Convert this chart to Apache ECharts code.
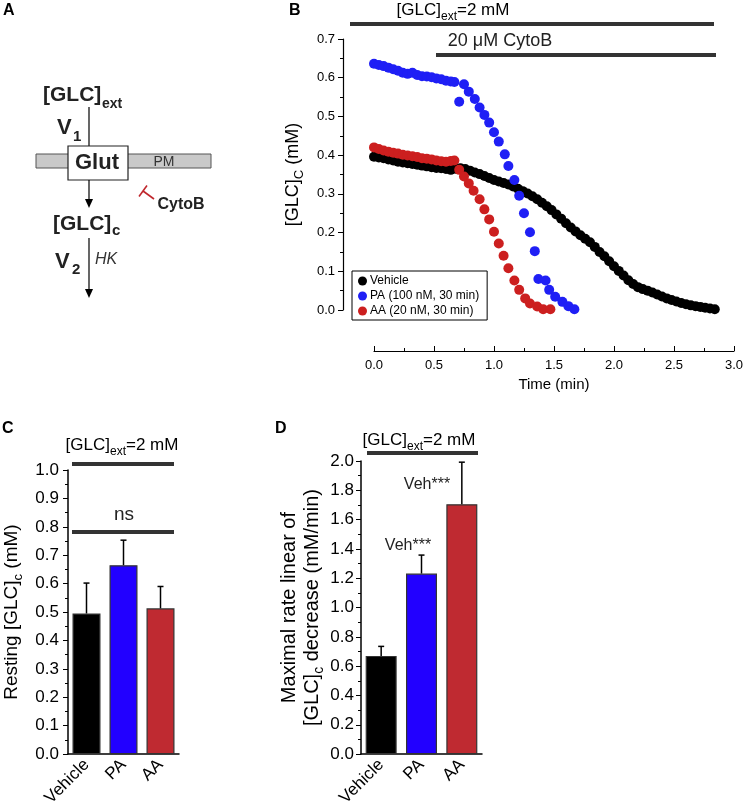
<!DOCTYPE html>
<html>
<head>
<meta charset="utf-8">
<script src="https://cdn.jsdelivr.net/npm/echarts@6/dist/echarts.min.js"></script>
<style>
html,body{margin:0;padding:0;background:#fff;}
#chart{width:746px;height:809px;}
</style>
</head>
<body>
<div id="chart"></div>
<script>
// ---------- Panel B: time course ----------
const vehicleTime = [0.00,0.04,0.08,0.12,0.16,0.20,0.24,0.28,0.32,0.36,0.40,0.44,0.48,0.52,0.56,0.60,0.64,0.68,0.72,0.76,0.80,0.84,0.88,0.92,0.96,1.00,1.04,1.08,1.12,1.16,1.20,1.24,1.28,1.32,1.36,1.40,1.44,1.48,1.52,1.56,1.60,1.64,1.68,1.72,1.76,1.80,1.84,1.88,1.92,1.96,2.00,2.04,2.08,2.12,2.16,2.20,2.24,2.28,2.32,2.36,2.40,2.44,2.48,2.52,2.56,2.60,2.64,2.68,2.72,2.76,2.80,2.84];
const vehicleGlc = [0.396,0.394,0.392,0.389,0.386,0.383,0.381,0.379,0.377,0.375,0.373,0.371,0.369,0.367,0.366,0.364,0.362,0.365,0.366,0.364,0.360,0.355,0.351,0.346,0.341,0.336,0.332,0.328,0.324,0.319,0.313,0.307,0.301,0.294,0.286,0.277,0.268,0.258,0.247,0.236,0.224,0.213,0.203,0.193,0.184,0.175,0.163,0.150,0.139,0.126,0.113,0.101,0.089,0.077,0.067,0.059,0.054,0.050,0.045,0.040,0.035,0.030,0.026,0.022,0.018,0.015,0.012,0.010,0.008,0.006,0.004,0.002];

const paTime = [0.00,0.04,0.08,0.12,0.16,0.20,0.24,0.28,0.32,0.36,0.40,0.44,0.48,0.52,0.56,0.60,0.64,0.67,0.71,0.75,0.79,0.84,0.88,0.92,0.96,1.00,1.04,1.09,1.12,1.17,1.21,1.25,1.30,1.34,1.37,1.43,1.46,1.51,1.57,1.62,1.67];
const paGlc = [0.636,0.633,0.630,0.626,0.622,0.618,0.613,0.610,0.613,0.607,0.604,0.603,0.601,0.598,0.596,0.592,0.590,0.589,0.538,0.583,0.564,0.545,0.523,0.504,0.484,0.459,0.435,0.402,0.372,0.336,0.295,0.250,0.201,0.152,0.080,0.076,0.052,0.034,0.021,0.010,0.002];

const aaTime = [0.00,0.04,0.08,0.12,0.16,0.20,0.24,0.28,0.32,0.36,0.40,0.44,0.48,0.52,0.56,0.60,0.64,0.67,0.71,0.75,0.79,0.83,0.88,0.92,0.96,1.00,1.04,1.08,1.12,1.17,1.21,1.26,1.30,1.36,1.41,1.47];
const aaGlc = [0.420,0.416,0.412,0.409,0.406,0.404,0.401,0.399,0.397,0.395,0.392,0.391,0.389,0.386,0.384,0.383,0.385,0.386,0.362,0.345,0.327,0.308,0.286,0.260,0.234,0.202,0.172,0.140,0.108,0.076,0.052,0.030,0.017,0.009,0.002,0.002];

const seriesNames = ['Vehicle', 'PA (100 nM, 30 min)', 'AA (20 nM, 30 min)'];

// ---------- Panels C and D: bars ----------
const groups = ['Vehicle', 'PA', 'AA'];
const restingMean = [0.495, 0.665, 0.513];
const restingErr = [0.107, 0.088, 0.077];
const rateMean = [0.670, 1.232, 1.705];
const rateErr = [0.065, 0.126, 0.287];

const FONT = 'Arial, "Liberation Sans", Helvetica, sans-serif';
const pointColors = ['#000000', '#1f1ff5', '#cc1f1f'];
const barColors = ['#000000', '#2200ff', '#bf2a31'];

function zip(a, b) { return a.map((v, i) => [v, b[i]]); }
function fmt1(v) { return v.toFixed(1); }

function errRender(params, api) {
  const x = api.value(0), m = api.value(1), e = api.value(2);
  const p0 = api.coord([x, m]);
  const p1 = api.coord([x, m + e]);
  const st = { stroke: '#000', lineWidth: 1.5 };
  return { type: 'group', children: [
    { type: 'line', shape: { x1: p0[0], y1: p0[1], x2: p1[0], y2: p1[1] }, style: st },
    { type: 'line', shape: { x1: p1[0] - 3, y1: p1[1], x2: p1[0] + 3, y2: p1[1] }, style: st }
  ]};
}

function richSub(size, subSize, color) {
  return {
    n: { fontSize: size, fontFamily: FONT, color: color, lineHeight: size + 3, verticalAlign: 'top' },
    s: { fontSize: subSize, fontFamily: FONT, color: color, lineHeight: subSize, padding: [Math.round(size * 0.5), 0, 0, 0], verticalAlign: 'top' }
  };
}

const chart = echarts.init(document.getElementById('chart'), null, { renderer: 'canvas' });

const valAxisCommon = {
  axisLine: { show: true, onZero: false, lineStyle: { color: '#000', width: 1.2 } },
  splitLine: { show: false },
  axisLabel: { color: '#000', fontFamily: FONT, formatter: fmt1 },
  nameTextStyle: { color: '#000', fontFamily: FONT }
};

function txt(x, y, text, font, fill, align, va) {
  return { type: 'text', x: x, y: y, silent: true, style: { text: text, font: font, fill: fill || '#000', align: align || 'left', verticalAlign: va || 'middle' } };
}
function ln(x1, y1, x2, y2, color, w) {
  return { type: 'line', silent: true, shape: { x1, y1, x2, y2 }, style: { stroke: color, lineWidth: w } };
}
function richTxt(x, y, text, rich, align) {
  return { type: 'text', x: x, y: y, silent: true, style: { text: text, rich: rich, align: align || 'center', verticalAlign: 'top' } };
}

const annRich = richSub(17, 12, '#222');
const barStroke = '#333';

const graphics = [
  // Panel letters
  txt(3, 11, 'A', 'bold 16px ' + FONT),
  txt(289, 11, 'B', 'bold 16px ' + FONT),
  txt(2, 429, 'C', 'bold 16px ' + FONT),
  txt(275, 429, 'D', 'bold 16px ' + FONT),

  // ---- Panel A diagram ----
  txt(43, 95, '[GLC]', 'bold 21px ' + FONT, '#222'),
  txt(102, 104, 'ext', 'bold 14px ' + FONT, '#222'),
  ln(89, 107, 89, 146, '#000', 1.2),
  txt(57, 128, 'V', 'bold 22px ' + FONT, '#222'),
  txt(73, 137, '1', 'bold 15px ' + FONT, '#222'),
  { type: 'rect', silent: true, shape: { x: 36, y: 154, width: 175, height: 14 }, style: { fill: '#c9c9c9', stroke: '#555', lineWidth: 1 } },
  { type: 'rect', silent: true, shape: { x: 68, y: 146, width: 60, height: 34 }, style: { fill: '#fff', stroke: '#222', lineWidth: 1.2 } },
  txt(97, 163, 'Glut', 'bold 22px ' + FONT, '#222', 'center'),
  txt(164, 162, 'PM', '14px ' + FONT, '#333', 'center'),
  ln(89, 180, 89, 201, '#000', 1.2),
  { type: 'polygon', silent: true, shape: { points: [[85, 199], [93, 199], [89, 208]] }, style: { fill: '#000' } },
  ln(154, 199, 143, 191, '#c0272d', 1.6),
  ln(139, 196.5, 147, 185.5, '#c0272d', 1.6),
  txt(181, 205, 'CytoB', 'bold 16px ' + FONT, '#222', 'center'),
  txt(53, 224, '[GLC]', 'bold 21px ' + FONT, '#222'),
  txt(112, 231, 'c', 'bold 15px ' + FONT, '#222'),
  ln(89, 238, 89, 291, '#000', 1.2),
  { type: 'polygon', silent: true, shape: { points: [[85, 289], [93, 289], [89, 298]] }, style: { fill: '#000' } },
  txt(55, 262, 'V', 'bold 22px ' + FONT, '#222'),
  txt(72, 270, '2', 'bold 15px ' + FONT, '#222'),
  txt(95, 260, 'HK', 'italic 16px ' + FONT, '#333'),

  // ---- Panel B annotations ----
  richTxt(453, 2, '{n|[GLC]}{s|ext}{n|=2 mM}', annRich),
  ln(350, 24, 714, 24, '#333', 4),
  txt(500, 41, '20 μM CytoB', '18px ' + FONT, '#222', 'center'),
  ln(436, 55, 716, 55, '#333', 4),

  // ---- Panel C annotations ----
  richTxt(122, 437, '{n|[GLC]}{s|ext}{n|=2 mM}', annRich),
  ln(72, 464, 174, 464, '#333', 4),
  txt(124, 515, 'ns', '19px ' + FONT, '#222', 'center'),
  ln(72, 532, 174, 532, '#333', 4),

  // ---- Panel D annotations ----
  richTxt(419, 432, '{n|[GLC]}{s|ext}{n|=2 mM}', annRich),
  ln(367, 453, 478, 453, '#333', 4),
  txt(408, 546, 'Veh***', '16px ' + FONT, '#222', 'center'),
  txt(427, 485, 'Veh***', '16px ' + FONT, '#222', 'center')
];

const option = {
  backgroundColor: '#fff',
  animation: false,
  textStyle: { fontFamily: FONT },
  graphic: graphics,
  legend: {
    data: seriesNames,
    orient: 'vertical',
    left: 352, top: 271,
    icon: 'circle',
    itemWidth: 9, itemHeight: 9, itemGap: 3,
    padding: [4, 8, 3, 6],
    borderColor: '#000', borderWidth: 1, borderRadius: 0,
    backgroundColor: '#fff',
    textStyle: { fontSize: 12, color: '#000', fontFamily: FONT, padding: [0, 0, 0, -2] },
    selectedMode: false
  },
  grid: [
    { left: 374, right: 10, top: 39, bottom: 499 },
    { left: 68, width: 111, top: 470, bottom: 54 },
    { left: 361, width: 121, top: 461, bottom: 52 }
  ],
  xAxis: [
    Object.assign({}, valAxisCommon, {
      gridIndex: 0, type: 'value', min: 0, max: 3, interval: 0.5, offset: 41,
      axisTick: { show: true, inside: true, length: 5, lineStyle: { color: '#000' } },
      minorTick: { show: true, splitNumber: 2, length: 3, lineStyle: { color: '#000' } },
      axisLabel: { color: '#000', fontFamily: FONT, fontSize: 13, margin: 8, formatter: fmt1 },
      name: 'Time (min)', nameLocation: 'middle', nameGap: 26,
      nameTextStyle: { fontSize: 15, color: '#000', fontFamily: FONT }
    }),
    {
      gridIndex: 1, type: 'category', data: groups,
      axisLine: { show: true, onZero: false, lineStyle: { color: '#000', width: 1.5 } },
      axisTick: { show: false },
      axisLabel: { rotate: 45, interval: 0, fontSize: 17, color: '#000', fontFamily: FONT, margin: 8 }
    },
    {
      gridIndex: 2, type: 'category', data: groups,
      axisLine: { show: true, onZero: false, lineStyle: { color: '#000', width: 1.5 } },
      axisTick: { show: false },
      axisLabel: { rotate: 45, interval: 0, fontSize: 17, color: '#000', fontFamily: FONT, margin: 8 }
    }
  ],
  yAxis: [
    Object.assign({}, valAxisCommon, {
      gridIndex: 0, type: 'value', min: 0, max: 0.7, interval: 0.1, offset: 31,
      axisTick: { show: true, inside: false, length: 5, lineStyle: { color: '#000' } },
      minorTick: { show: true, splitNumber: 2, length: 3, lineStyle: { color: '#000' } },
      axisLabel: { color: '#000', fontFamily: FONT, fontSize: 13, margin: 8, formatter: fmt1 },
      name: '{n|[GLC]}{s|C}{n| (mM)}', nameLocation: 'middle', nameRotate: 90, nameGap: 38,
      nameTextStyle: { rich: richSub(18, 13, '#000') }
    }),
    Object.assign({}, valAxisCommon, {
      gridIndex: 1, type: 'value', min: 0, max: 1.0, interval: 0.1,
      axisLine: { show: true, onZero: false, lineStyle: { color: '#000', width: 1.5 } },
      axisTick: { show: true, inside: false, length: 5, lineStyle: { color: '#000' } },
      minorTick: { show: true, splitNumber: 2, length: 3, lineStyle: { color: '#000' } },
      axisLabel: { color: '#000', fontFamily: FONT, fontSize: 17, margin: 9, formatter: fmt1 },
      name: '{n|Resting [GLC]}{s|c}{n| (mM)}', nameLocation: 'middle', nameRotate: 90, nameGap: 44,
      nameTextStyle: { rich: richSub(19, 13, '#000') }
    }),
    Object.assign({}, valAxisCommon, {
      gridIndex: 2, type: 'value', min: 0, max: 2.0, interval: 0.2,
      axisLine: { show: true, onZero: false, lineStyle: { color: '#000', width: 1.5 } },
      axisTick: { show: true, inside: false, length: 5, lineStyle: { color: '#000' } },
      minorTick: { show: true, splitNumber: 2, length: 3, lineStyle: { color: '#000' } },
      axisLabel: { color: '#000', fontFamily: FONT, fontSize: 17, margin: 7, formatter: fmt1 },
      name: '{n|Maximal rate linear of}\n{n|[GLC]}{s|c}{n| decrease (mM/min)}', nameLocation: 'middle', nameRotate: 90, nameGap: 36,
      nameTextStyle: { rich: richSub(20, 14, '#000') }
    })
  ],
  series: [
    { name: seriesNames[0], type: 'scatter', xAxisIndex: 0, yAxisIndex: 0, symbolSize: 10, clip: false,
      itemStyle: { color: pointColors[0], opacity: 1 }, data: zip(vehicleTime, vehicleGlc) },
    { name: seriesNames[1], type: 'scatter', xAxisIndex: 0, yAxisIndex: 0, symbolSize: 10, clip: false,
      itemStyle: { color: pointColors[1], opacity: 1 }, data: zip(paTime, paGlc) },
    { name: seriesNames[2], type: 'scatter', xAxisIndex: 0, yAxisIndex: 0, symbolSize: 10, clip: false,
      itemStyle: { color: pointColors[2], opacity: 1 }, data: zip(aaTime, aaGlc) },
    { type: 'bar', xAxisIndex: 1, yAxisIndex: 1, barWidth: 28,
      data: restingMean.map((v, i) => ({ value: v, itemStyle: { color: barColors[i], borderColor: barStroke, borderWidth: 1.2 } })) },
    { type: 'custom', xAxisIndex: 1, yAxisIndex: 1, z: 5, renderItem: errRender, encode: { x: 0, y: 1 },
      data: restingMean.map((v, i) => [i, v, restingErr[i]]) },
    { type: 'bar', xAxisIndex: 2, yAxisIndex: 2, barWidth: 31,
      data: rateMean.map((v, i) => ({ value: v, itemStyle: { color: barColors[i], borderColor: barStroke, borderWidth: 1.2 } })) },
    { type: 'custom', xAxisIndex: 2, yAxisIndex: 2, z: 5, renderItem: errRender, encode: { x: 0, y: 1 },
      data: rateMean.map((v, i) => [i, v, rateErr[i]]) }
  ]
};
chart.setOption(option);
</script>
</body>
</html>
